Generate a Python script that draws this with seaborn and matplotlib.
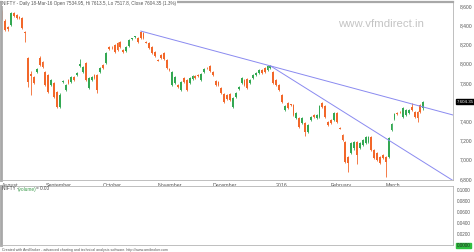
import matplotlib
matplotlib.use("Agg")
import matplotlib.pyplot as plt
import matplotlib.transforms as mtrans
import seaborn as sns
import numpy as np
import pandas as pd

# ---------------- data ----------------
opens = [8538,8444,8381,8402,8527,8506,8490,8475,8325,8059,
         7890,7861,7913,8059,8017,7913,7882,7778,7798,7705,
         7549,7809,7726,7830,7809,7861,7882,7975,7913,8007,
         7746,7830,7882,7882,7913,7986,8007,8173,8165,8194,
         8215,8225,8142,8132,8184,8256,8277,8267,8330,8319,
         8230,8215,8173,8121,8043,8090,8111,8038,7940,7778,
         7798,7778,7726,7850,7830,7798,7840,7871,7882,7830,
         7913,7958,7975,7913,7819,7809,7746,7684,7674,7684,
         7549,7653,7736,7798,7830,7840,7798,7850,7882,7903,
         7934,7955,7934,7955,7913,7830,7778,7674,7517,7590,
         7575,7570,7434,7434,7382,7382,7288,7413,7465,7434,
         7445,7590,7559,7392,7413,7413,7486,7335,7257,7184,
         7028,7070,7122,7184,7122,7153,7174,7184,7236,7101,
         7070,7028,7049,7028,7028,7309,7424,7486,7500,7445,
         7465,7486,7549,7497,7497,7570,7538]
closes = [8465,8350,8361,8527,8496,8475,8475,8371,8315,7809,
          7870,7798,7944,7986,7965,7778,7705,7830,7653,7549,
          7674,7819,7778,7798,7861,7830,7903,7996,7965,7830,
          7850,7861,7850,7726,7955,7955,8111,8152,8160,8121,
          8142,8173,8125,8173,8246,8262,8282,8225,8267,8267,
          8220,8163,8111,8079,8033,8059,8048,7955,7930,7913,
          7861,7757,7809,7809,7726,7850,7871,7850,7871,7892,
          7944,7952,7924,7882,7778,7778,7694,7601,7632,7621,
          7642,7694,7757,7850,7778,7746,7830,7882,7903,7934,
          7903,7913,7975,7975,7798,7778,7726,7601,7559,7538,
          7565,7465,7486,7340,7434,7288,7361,7445,7445,7465,
          7559,7549,7445,7361,7382,7486,7392,7325,7205,6976,
          6966,7174,7184,7049,7174,7205,7236,7236,7101,7018,
          6997,6966,7018,6976,7226,7372,7476,7476,7492,7538,
          7517,7517,7517,7445,7434,7497,7604]
highs = [8560,8460,8395,8535,8540,8515,8500,8485,8335,8065,
         7920,7870,7950,8079,8030,7920,7890,7840,7810,7715,
         7690,7830,7790,7840,7870,7870,7912,8048,7975,8017,
         7860,7870,7890,7890,7965,7996,8121,8184,8180,8205,
         8225,8235,8150,8184,8256,8270,8290,8277,8340,8330,
         8240,8225,8184,8132,8050,8100,8121,8048,7950,7925,
         7870,7790,7820,7860,7840,7860,7880,7880,7890,7900,
         7955,7965,7986,7920,7830,7815,7755,7694,7684,7694,
         7653,7705,7767,7861,7840,7850,7840,7892,7913,7944,
         7944,7965,7986,7986,7924,7840,7788,7684,7570,7601,
         7585,7580,7497,7445,7445,7392,7372,7455,7476,7476,
         7570,7601,7570,7403,7424,7497,7497,7345,7267,7195,
         7038,7184,7195,7195,7184,7215,7247,7247,7247,7112,
         7080,7038,7060,7040,7236,7382,7486,7497,7507,7549,
         7528,7528,7590,7507,7507,7580,7614]
lows = [8455,8340,8345,8390,8485,8465,8460,8360,8225,7757,
        7674,7790,7900,7975,7955,7770,7690,7770,7640,7540,
        7539,7795,7715,7790,7800,7822,7875,7965,7905,7820,
        7736,7820,7840,7694,7905,7945,7996,8142,8150,8111,
        8132,8163,8115,8121,8175,8245,8267,8215,8256,8256,
        8210,8152,8100,8069,8025,8048,8038,7944,7920,7767,
        7790,7746,7715,7800,7715,7790,7830,7840,7865,7820,
        7905,7945,7913,7870,7767,7770,7684,7590,7620,7610,
        7535,7642,7726,7790,7767,7736,7790,7840,7872,7892,
        7892,7903,7924,7944,7788,7767,7715,7590,7507,7528,
        7555,7455,7424,7330,7372,7247,7278,7403,7434,7424,
        7434,7538,7434,7351,7372,7403,7382,7315,7195,6966,
        6872,7060,7101,6955,7112,7143,7164,7174,7091,7007,
        6987,6955,7007,6820,7018,7299,7413,7465,7486,7434,
        7455,7476,7507,7434,7392,7486,7518]

month_pos = [0, 15, 35, 54, 73, 95, 114, 133]
month_labels = ["August", "September", "October", "November",
                "December", "2016", "February", "March"]
# 7,600 is hidden behind the last-value box in the reference
price_ticks = [6800, 7000, 7200, 7400, 7800, 8000, 8200, 8400, 8600]
vol_ticks = [0.0, 0.02, 0.04, 0.06, 0.08, 0.10]
last_close = 7604.35

# trendlines: two anchor points each (bar index, price)
trend1_x = [48, 157]
trend1_y = [8340, 7460]
trend2_x = [93, 157]
trend2_y = [7977, 6770]

title = ("NIFTY - Daily 18-Mar-16 Open 7534.95, Hi 7613.5, Lo 7517.8, "
         "Close 7604.35 (1.3%)")
footer = ("Created with AmiBroker - advanced charting and technical analysis "
          "software. http://www.amibroker.com")

# ---------------- drawing ----------------
sns.set_style("white")
plt.rcParams['font.family'] = ['Liberation Sans', 'DejaVu Sans']

W, H = 474, 252
fig = plt.figure(figsize=(W / 100, H / 100), dpi=100)
ax = fig.add_axes([1 / W, 72 / H, 452 / W, 178 / H])
axv = fig.add_axes([1 / W, 7 / H, 452 / W, 59 / H])

df = pd.DataFrame({"o": opens, "c": closes, "h": highs, "l": lows})
df["i"] = np.arange(len(df))
up_col, dn_col = "#33a852", "#f2672a"
df["col"] = np.where(df["c"] >= df["o"], up_col, dn_col)
body = df["c"] - df["o"]
body = body.where(body.abs() > 6, np.sign(body + 0.1) * 7)

ax.vlines(df["i"], df["l"], df["h"], colors=df["col"], linewidth=0.6)
ax.bar(df["i"], body, bottom=df["o"], width=0.65, color=df["col"],
       linewidth=0)

tl_col = "#8a8af0"
sns.lineplot(x=trend1_x, y=trend1_y, ax=ax, color=tl_col, linewidth=0.7,
             legend=False)
sns.lineplot(x=trend2_x, y=trend2_y, ax=ax, color=tl_col, linewidth=0.7,
             legend=False)

ax.set_xlim(-0.4, 156.3)
ax.set_ylim(6789, 8642)
ax.set_xticks(month_pos)
ax.set_xticklabels(month_labels)
for lbl in ax.get_xticklabels():
    lbl.set_ha("left")
ax.tick_params(axis="x", direction="out", length=1.5, width=0.4, pad=0.5,
               labelsize=3.8, colors="#555555")
ax.yaxis.tick_right()
ax.set_yticks(price_ticks)
ax.set_yticklabels([f"{v:,}" for v in price_ticks])
ax.tick_params(axis="y", length=0, pad=5, labelsize=3.6, colors="#555555")
ax.set_xlabel("")
ax.set_ylabel("")

for a in (ax, axv):
    for s in a.spines.values():
        s.set_color("#b4b4b4")
        s.set_linewidth(0.6)
    a.spines["left"].set_linewidth(2.0)
    a.spines["left"].set_color("#a8a8a8")
ax.spines["top"].set_linewidth(1.6)
ax.spines["top"].set_color("#a8a8a8")

# last value box
ax.text(457 / W, last_close, f"{last_close:,.2f}",
        transform=mtrans.blended_transform_factory(fig.transFigure, ax.transData),
        fontsize=3.2, color="white", va="center", ha="left",
        bbox=dict(boxstyle="square,pad=0.12", fc="black", ec="black"))

# volume pane
axv.set_xlim(-0.4, 156.3)
axv.set_ylim(0, 0.107)
axv.set_xticks([])
axv.yaxis.tick_right()
axv.set_yticks(vol_ticks)
axv.set_yticklabels([f"{v:.4f}" for v in vol_ticks])
axv.tick_params(axis="y", length=0, pad=2.5, labelsize=3.3, colors="#555555")
zl = axv.get_yticklabels()[0]
zl.set_bbox(dict(boxstyle="square,pad=0.1", fc="#2fbf3f", ec="#2fbf3f"))
zl.set_color("#222222")

fig.text(2 / W, 1 - 189 / H, "NIFTY -", fontsize=3.4, color="#444444",
         va="center", ha="left")
fig.text(18 / W, 1 - 189 / H, "(volume)", fontsize=3.4, color="#3a9a4a",
         va="center", ha="left")
fig.text(36 / W, 1 - 189 / H, "= 0.00", fontsize=3.4, color="#444444",
         va="center", ha="left")

# header / watermark / footer
fig.text(2 / W, 1 - 3 / H, title, fontsize=3.3, color="#555555",
         va="center", ha="left",
         bbox=dict(boxstyle="square,pad=0.1", fc="white", ec="none"))
fig.text(338 / W, 1 - 24 / H, "www.vfmdirect.in", fontsize=8.2,
         color="#c4c4c4", va="center", ha="left")
fig.text(2 / W, 1 - 250 / H, footer, fontsize=2.6, color="#555555",
         va="center", ha="left")

fig.savefig("out.png", dpi=100)
